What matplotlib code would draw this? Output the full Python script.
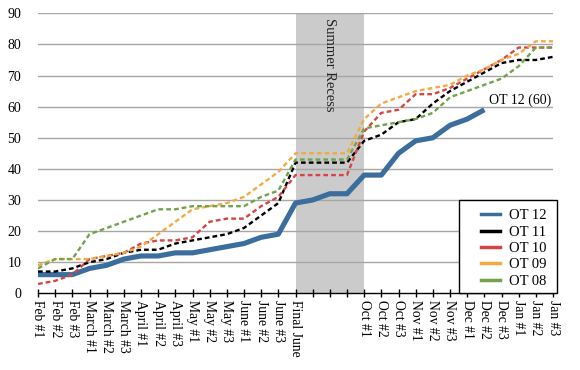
import matplotlib
matplotlib.use("Agg")
import matplotlib.pyplot as plt
from matplotlib.lines import Line2D
from matplotlib.patches import Rectangle

plt.rcParams['font.family'] = ['Liberation Serif', 'DejaVu Serif']

categories = ['Feb #1', 'Feb #2', 'Feb #3', 'March #1', 'March #2', 'March #3',
              'April #1', 'April #2', 'April #3', 'May #1', 'May #2', 'May #3',
              'June #1', 'June #2', 'June #3', 'Final June', '', '', '',
              'Oct #1', 'Oct #2', 'Oct #3', 'Nov #1', 'Nov #2', 'Nov #3',
              'Dec #1', 'Dec #2', 'Dec #3', 'Jan #1', 'Jan #2', 'Jan #3']

ot12 = [6, 6, 6, 8, 9, 11, 12, 12, 13, 13, 14, 15, 16, 18, 19, 29,
        30, 32, 32, 38, 38, 45, 49, 50, 54, 56, 59]
ot11 = [7, 7, 8, 10, 11, 13, 14, 14, 16, 17, 18, 19, 21, 25, 29, 42,
        42, 42, 42, 49, 51, 55, 56, 61, 65, 68, 71, 74, 75, 75, 76]
ot10 = [3, 4, 6, 11, 12, 13, 16, 17, 17, 18, 23, 24, 24, 28, 31, 38,
        38, 38, 38, 52, 58, 59, 64, 64, 66, 69, 72, 75, 79, 79, 79]
ot09 = [9, 11, 11, 11, 12, 13, 15, 19, 23, 27, 28, 29, 31, 35, 39, 45,
        45, 45, 45, 56, 61, 63, 65, 66, 67, 70, 72, 75, 77, 81, 81]
ot08 = [8, 11, 11, 19, 21, 23, 25, 27, 27, 28, 28, 28, 28, 31, 33, 43,
        43, 43, 43, 53, 54, 55, 56, 58, 63, 65, 67, 69, 73, 79, 79]

series_names = ['OT 12', 'OT 11', 'OT 10', 'OT 09', 'OT 08']
recess_start = 'Final June'
recess_end = 'Oct #1'
recess_label = 'Summer Recess'
end_label = 'OT 12 (60)'

colors = ['#3B6E9C', '#000000', '#D64545', '#F2AA42', '#72A24C']

fig = plt.figure(figsize=(5.8, 3.7), dpi=100)
ax = fig.add_axes([38/580, (370-293.3)/370, (553-38)/580, (293.3-13.3)/370])

x = list(range(len(categories)))
i0 = categories.index(recess_start)
i1 = categories.index(recess_end)
ax.axvspan(i0, i1, color='#CBCBCB', zorder=0.2, lw=0)

data = [ot12, ot11, ot10, ot09, ot08]
for k, (name, vals, c) in enumerate(zip(series_names, data, colors)):
    xs = x[:len(vals)]
    if k == 0:
        ax.plot(xs, vals, color=c, lw=3.7, solid_joinstyle='round',
                solid_capstyle='butt', zorder=3)
    else:
        ax.plot(xs, vals, color=c, lw=1.7, dashes=(2.0, 1.3), zorder=3 + k)

ax.set_xlim(0, len(categories) - 1)
ax.set_ylim(0, 90)
ax.set_yticks(range(0, 91, 10))
ax.set_xticks(x)
ax.set_xticklabels(categories, rotation=-90, fontsize=9.8, va='top', ha='center')
ax.tick_params(axis='x', direction='inout', length=6, width=1, color='black', pad=2)
ax.tick_params(axis='y', length=0, pad=12, labelsize=10)

for v in range(10, 91, 10):
    ax.axhline(v, color='#A6A6A6', lw=1, zorder=0.5)

for s in ['left', 'right', 'top']:
    ax.spines[s].set_visible(False)
ax.spines['bottom'].set_color('black')
ax.spines['bottom'].set_linewidth(1)
ax.spines['bottom'].set_zorder(10)

ax.text((i0 + i1) / 2, 88.5, recess_label, rotation=-90, ha='center', va='top',
        fontsize=10.5, color='#222222', zorder=6)
ax.text(len(ot12) - 1 + 0.25, 62, end_label, ha='left', va='center',
        fontsize=10, color='black', zorder=6)

# legend frame
fig.patches.append(Rectangle((459/580, (370-293)/370), 98/580, 93/370,
                             transform=fig.transFigure, facecolor='white',
                             edgecolor='black', lw=1, zorder=20))
handles = [Line2D([0], [0], color=c, lw=2.5) for c in colors]
leg = fig.legend(handles, series_names, loc='upper left',
                 bbox_to_anchor=(481/580, (370-209)/370), frameon=False,
                 fontsize=10.5, handlelength=1.3, handletextpad=0.65,
                 labelspacing=0.22, borderpad=0, borderaxespad=0)
leg.set_zorder(21)

fig.savefig('out.png', dpi=100)
